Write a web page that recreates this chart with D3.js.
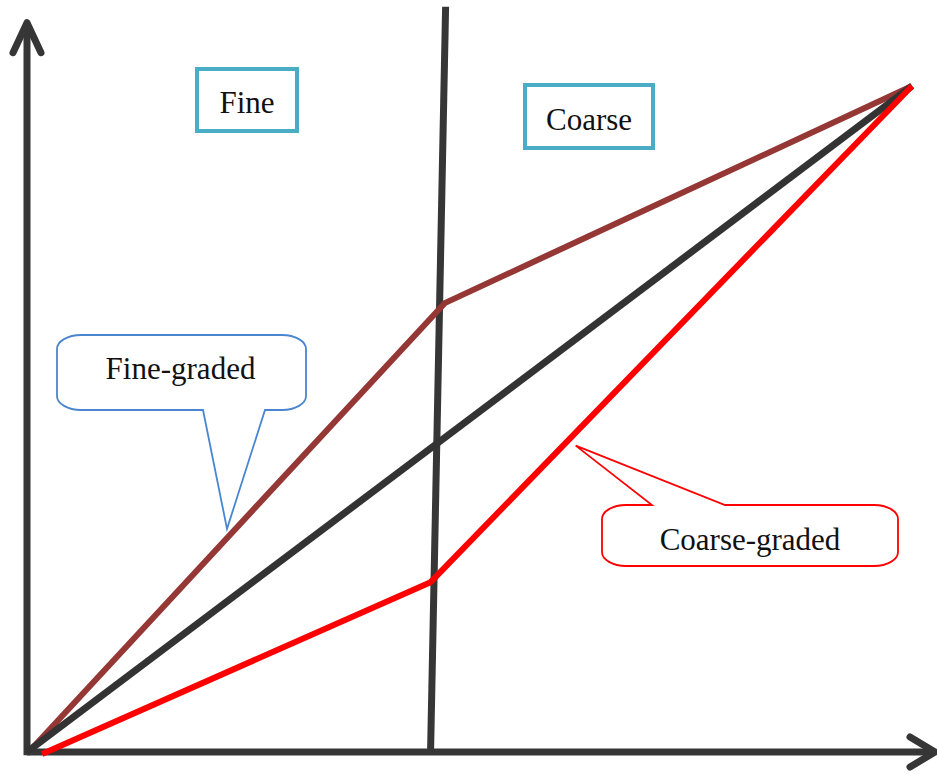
<!DOCTYPE html>
<html lang="en">
<head>
  <meta charset="UTF-8">
  <title>Fine vs coarse graded</title>
  <script src="https://d3js.org/d3.v7.min.js"></script>
  <style>
    body { margin: 0; background: #fff; }
    svg { display: block; }
    .lbl { font-family: "Liberation Serif", "Times New Roman", serif; font-size: 31px; fill: #111; }
  </style>
</head>
<body>
<script>
  // schematic values, 0-100 on both axes
  const blackLine = [[0, 0], [100, 100]];
  const fineLine = [[0.2, 0], [47.2, 67.4], [100, 100]];
  const coarseLine = [[1.7, -0.3], [45.6, 25.5], [100, 100]];
  const divider = [[45.6, 0], [47.3, 111.9]];
  const axisEnds = { x: 102.6, y: 109.5 };

  const regionLabels = ["Fine", "Coarse"];
  const calloutLabels = ["Fine-graded", "Coarse-graded"];
  // where each callout points, in data units
  const calloutTargets = [[22.6, 33.5], [62.0, 46.0]];

  const width = 937, height = 774;

  const svg = d3.select("body").append("svg")
    .attr("width", width)
    .attr("height", height);

  const x = d3.scaleLinear().domain([0, 100]).range([27, 912]);
  const y = d3.scaleLinear().domain([0, 100]).range([752, 86]);

  const line = d3.line().x(d => x(d[0])).y(d => y(d[1]));
  const axisColor = "#363636";

  // axes with open arrow heads
  const axes = svg.append("g")
    .attr("fill", "none")
    .attr("stroke", axisColor)
    .attr("stroke-width", 7)
    .attr("stroke-linecap", "round")
    .attr("stroke-linejoin", "round");

  axes.append("path").attr("stroke-linecap", "butt")
    .attr("d", line([[0, -0.5], [0, axisEnds.y]]));
  axes.append("path").attr("stroke-linecap", "butt")
    .attr("d", line([[0, 0], [axisEnds.x, 0]]));

  const yTip = [x(0), y(axisEnds.y)];
  axes.append("path")
    .attr("d", `M${yTip[0] - 14},${yTip[1] + 30}L${yTip[0]},${yTip[1]}L${yTip[0] + 14},${yTip[1] + 30}`);
  const xTip = [x(axisEnds.x), y(0)];
  axes.append("path")
    .attr("d", `M${xTip[0] - 25},${xTip[1] - 15}L${xTip[0]},${xTip[1]}L${xTip[0] - 25},${xTip[1] + 15}`);

  // divider between fine and coarse
  svg.append("path")
    .attr("d", line(divider))
    .attr("fill", "none")
    .attr("stroke", axisColor)
    .attr("stroke-width", 7);

  const series = [
    { pts: fineLine, color: "#953735", w: 6 },
    { pts: blackLine, color: "#333333", w: 7 },
    { pts: coarseLine, color: "#ff0000", w: 6 }
  ];

  svg.selectAll(".series")
    .data(series)
    .enter()
    .append("path")
    .attr("class", "series")
    .attr("d", d => line(d.pts))
    .attr("fill", "none")
    .attr("stroke", d => d.color)
    .attr("stroke-width", d => d.w)
    .attr("stroke-linejoin", "miter");

  // region boxes
  const boxes = [
    { x0: 197, y0: 69, x1: 297, y1: 131 },
    { x0: 525, y0: 85, x1: 653, y1: 148 }
  ];
  boxes.forEach((b, i) => {
    svg.append("rect")
      .attr("x", b.x0).attr("y", b.y0)
      .attr("width", b.x1 - b.x0).attr("height", b.y1 - b.y0)
      .attr("fill", "#fff")
      .attr("stroke", "#4bacc6")
      .attr("stroke-width", 4);
    svg.append("text")
      .attr("class", "lbl")
      .attr("x", (b.x0 + b.x1) / 2)
      .attr("y", (b.y0 + b.y1) / 2 + 13)
      .attr("text-anchor", "middle")
      .text(regionLabels[i]);
  });

  // callout bubbles
  function bubble(b, tip, side) {
    const rx = 24, ry = 14;
    let p = `M${b.x0 + rx},${b.y0}`;
    if (side === "top") p += `H${b.t0}L${tip[0]},${tip[1]}L${b.t1},${b.y0}`;
    p += `H${b.x1 - rx}A${rx},${ry} 0 0 1 ${b.x1},${b.y0 + ry}`;
    p += `V${b.y1 - ry}A${rx},${ry} 0 0 1 ${b.x1 - rx},${b.y1}`;
    if (side === "bottom") p += `H${b.t1}L${tip[0]},${tip[1]}L${b.t0},${b.y1}`;
    p += `H${b.x0 + rx}A${rx},${ry} 0 0 1 ${b.x0},${b.y1 - ry}`;
    p += `V${b.y0 + ry}A${rx},${ry} 0 0 1 ${b.x0 + rx},${b.y0}Z`;
    return p;
  }

  const callouts = [
    { x0: 57, y0: 335, x1: 306, y1: 410, t0: 203, t1: 265, side: "bottom", color: "#4a86d0" },
    { x0: 602, y0: 505, x1: 898, y1: 566, t0: 652, t1: 725, side: "top", color: "#ff0000" }
  ];
  callouts.forEach((c, i) => {
    const tip = [x(calloutTargets[i][0]), y(calloutTargets[i][1])];
    svg.append("path")
      .attr("d", bubble(c, tip, c.side))
      .attr("fill", "#fff")
      .attr("stroke", c.color)
      .attr("stroke-width", 1.8);
    svg.append("text")
      .attr("class", "lbl")
      .attr("x", (c.x0 + c.x1) / 2 + (i === 0 ? -1 : 0))
      .attr("y", (c.y0 + c.y1) / 2 - (i === 0 ? 4 : -4) + 10)
      .attr("text-anchor", "middle")
      .text(calloutLabels[i]);
  });
</script>
</body>
</html>
